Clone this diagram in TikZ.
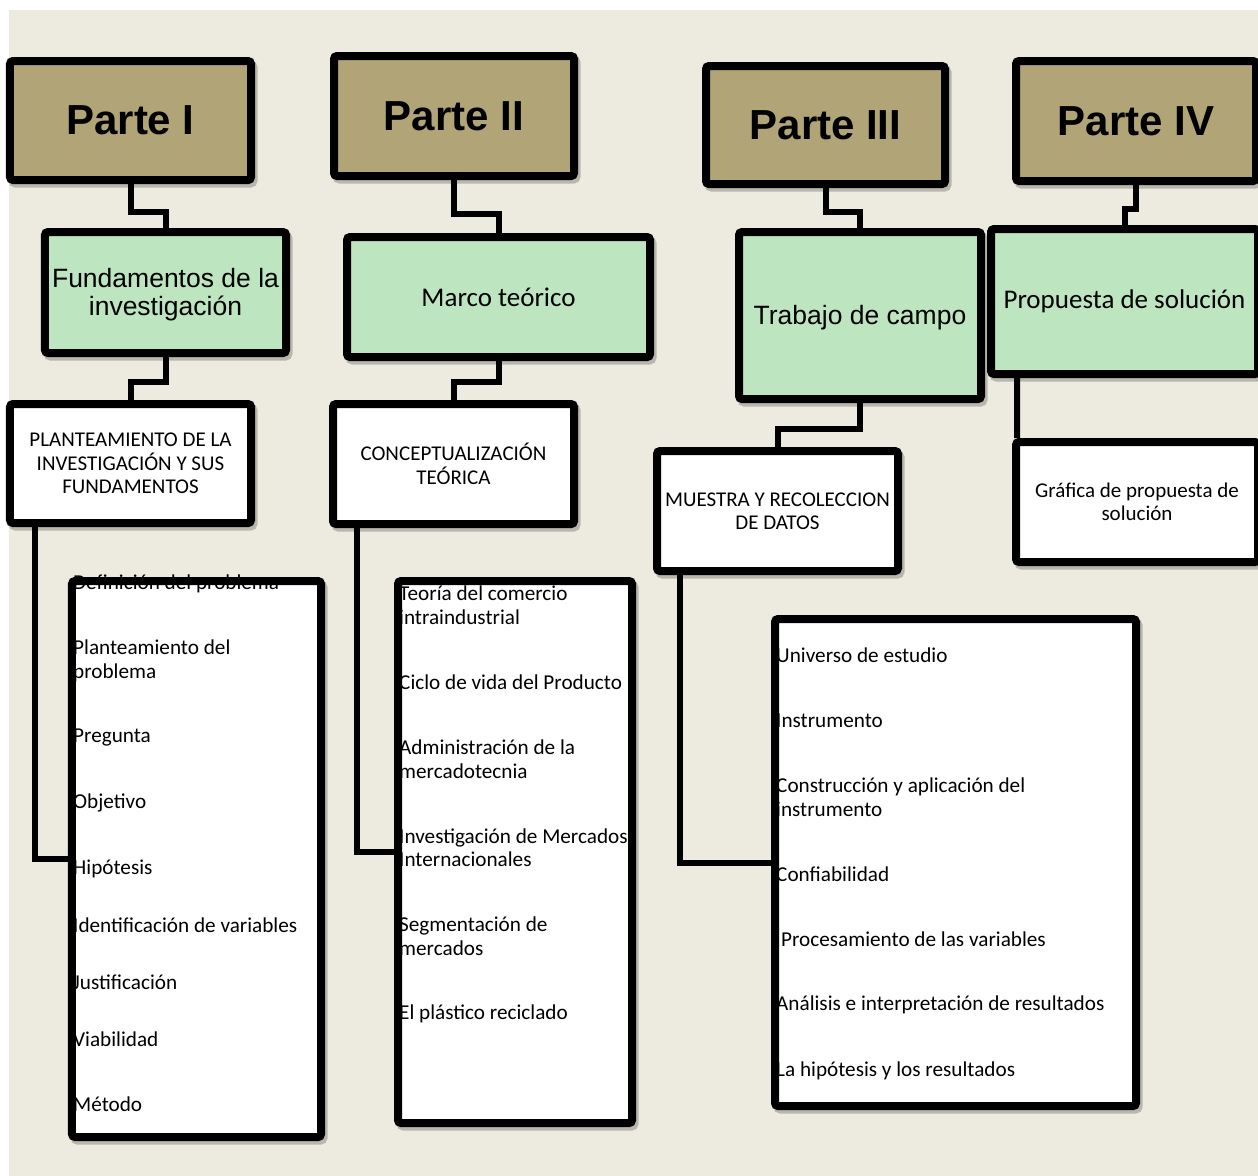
\documentclass[tikz,border=0pt]{standalone}
\usepackage{fontspec}
\setmainfont{Carlito}
\newfontfamily\arialf{Liberation Sans}
\newfontfamily\calf{Carlito}
\usetikzlibrary{shadows}
\definecolor{bgc}{HTML}{EDEAE0}
\definecolor{tanc}{HTML}{B1A578}
\definecolor{grnc}{HTML}{BDE5BF}
\begin{document}
\begin{tikzpicture}[x=1bp,y=-1bp,
  box/.style={draw=black, line width=8bp, rounded corners=3bp, inner sep=0pt, align=center,
     general shadow={shadow xshift=2.5bp, shadow yshift=-3.5bp, fill=black, draw=black, opacity=.22}},
  hdr/.style={box, fill=tanc, font=\arialf\bfseries\fontsize{42bp}{48bp}\selectfont},
  grnA/.style={box, fill=grnc, font=\arialf\fontsize{26.5bp}{28bp}\selectfont},
  grnC/.style={box, fill=grnc, font=\calf\fontsize{27bp}{32bp}\selectfont},
  wht/.style={box, fill=white, font=\calf\fontsize{21bp}{23.5bp}\selectfont},
  lst/.style={box, fill=white},
  item/.style={anchor=west, inner sep=0pt, align=left, font=\calf\fontsize{21.2bp}{23.5bp}\selectfont},
  conn/.style={draw=black, line width=6bp}]
\useasboundingbox (0,0) rectangle (1258,1176);
\fill[bgc] (9,10) rectangle (1258,1176);

% headers
\node[hdr, minimum width=241bp, minimum height=119bp] (p1) at (130.5,120.5) {Parte I};
\node[hdr, minimum width=240bp, minimum height=120bp] (p2) at (454,116) {Parte II};
\node[hdr, minimum width=239bp, minimum height=118bp] (p3) at (825.5,125) {Parte III};
\node[hdr, minimum width=240bp, minimum height=120bp] (p4) at (1136,121) {Parte IV};

% green
\node[grnA, minimum width=241bp, minimum height=121bp] (f1) at (165.5,292.5) {\raisebox{-2bp}[\height][\depth]{\parbox{240bp}{\centering Fundamentos de la\\investigación}}};
\node[grnC, minimum width=303bp, minimum height=120bp] (f2) at (498.5,297) {Marco teórico};
\node[grnA, minimum width=242bp, minimum height=167bp] (f3) at (860,315.5) {\raisebox{-2bp}[\height][\depth]{Trabajo de campo}};
\node[grnC, minimum width=267bp, minimum height=145bp] (f4) at (1124.5,301.5) {Propuesta de solución};

% white
\node[wht, minimum width=241bp, minimum height=119bp] (w1) at (130.5,463.5) {PLANTEAMIENTO DE LA\\INVESTIGACIÓN Y SUS\\FUNDAMENTOS};
\node[wht, minimum width=241bp, minimum height=120bp] (w2) at (453.5,464) {CONCEPTUALIZACIÓN\\TEÓRICA};
\node[wht, minimum width=241bp, minimum height=120bp] (w3) at (777.5,511) {MUESTRA Y RECOLECCION\\DE DATOS};
\node[wht, minimum width=242bp, minimum height=120bp] (w4) at (1137,502) {Gráfica de propuesta de\\solución};

% lists
\node[lst, minimum width=249bp, minimum height=556bp] (l1) at (196.5,859) {};
\node[lst, minimum width=234bp, minimum height=542bp] (l2) at (515,852) {};
\node[lst, minimum width=361bp, minimum height=487bp] (l3) at (955.5,862.5) {};

\node[item] (a1) at (73,584) {Definición del problema};
\node[item] (a2) at (73,661) {Planteamiento del\\problema};
\node[item] (a3) at (73,738) {Pregunta};
\node[item] (a4) at (73,803) {Objetivo};
\node[item] (a5) at (73,869) {Hipótesis};
\node[item] (a6) at (73,925.5) {Identificación de variables};
\node[item] (a7) at (73,982.5) {Justificación};
\node[item] (a8) at (73,1039.5) {Viabilidad};
\node[item] (a9) at (73,1104.5) {Método};

\node[item] (b1) at (399,605) {Teoría del comercio\\intraindustrial};
\node[item] (b2) at (399,682) {Ciclo de vida del Producto};
\node[item] (b3) at (399,759) {Administración de la\\mercadotecnia};
\node[item] (b4) at (399,847.5) {Investigación de Mercados\\Internacionales};
\node[item] (b5) at (399,936) {Segmentación de\\mercados};
\node[item] (b6) at (399,1014) {El plástico reciclado};

\node[item] (c1) at (776,655) {Universo de estudio};
\node[item] (c2) at (776,720.5) {Instrumento};
\node[item] (c3) at (776,797) {Construcción y aplicación del\\instrumento};
\node[item] (c4) at (776,874) {Confiabilidad};
\node[item] (c5) at (781,939) {Procesamiento de las variables};
\node[item] (c6) at (776,1005) {Análisis e interpretación de resultados};
\node[item] (c7) at (776,1070.5) {La hipótesis y los resultados};

% connectors
\draw[conn] (p1.south) -- ++(0,27.5) -| (f1.north);
\draw[conn] (f1.south) -- ++(0,25) -| (w1.north);
\draw[conn] ([xshift=-95.5bp]w1.south) |- (l1.west);

\draw[conn] (p2.south) -- ++(0,34) -| (f2.north);
\draw[conn] (f2.south) -- ++(0,21) -| (w2.north);
\draw[conn] ([xshift=-96.5bp]w2.south) |- (l2.west);

\draw[conn] (p3.south) -- ++(0,24) -| (f3.north);
\draw[conn] (f3.south) -- ++(0,26) -| (w3.north);
\draw[conn] ([xshift=-97.5bp]w3.south) |- (l3.west);

\draw[conn] (p4.south) -- ++(0,24) -| (f4.north);
\draw[conn] ([xshift=-107.5bp]f4.south) -- ([xshift=-120bp]w4.north);
\end{tikzpicture}
\end{document}
